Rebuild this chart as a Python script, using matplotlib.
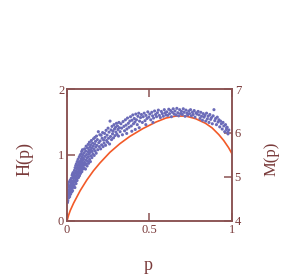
import matplotlib
matplotlib.use('Agg')
import matplotlib.pyplot as plt

# red curve H(p)
curve_p = [0.0, 0.01, 0.02, 0.04, 0.08, 0.12, 0.16, 0.20, 0.26, 0.32, 0.38, 0.46,
           0.54, 0.60, 0.66, 0.72, 0.78, 0.84, 0.88, 0.92, 0.95, 0.98, 1.0]
curve_h = [0.0, 0.09, 0.16, 0.27, 0.46, 0.62, 0.76, 0.88, 1.04, 1.17, 1.28, 1.40,
           1.50, 1.56, 1.59, 1.59, 1.55, 1.48, 1.41, 1.31, 1.22, 1.11, 1.02]

# blue scatter M(p)
scatter_p = [
    0.002, 0.004, 0.005, 0.007, 0.008, 0.009, 0.011, 0.012, 0.013, 0.015,
    0.016, 0.017, 0.019, 0.020, 0.021, 0.022, 0.024, 0.025, 0.026, 0.027,
    0.029, 0.030, 0.031, 0.032, 0.033, 0.034, 0.035, 0.036, 0.037, 0.038,
    0.039, 0.040, 0.003, 0.010, 0.018, 0.023, 0.028, 0.006, 0.014, 0.034,
    0.041, 0.042, 0.043, 0.044, 0.045, 0.046, 0.047, 0.048, 0.049, 0.050,
    0.051, 0.052, 0.053, 0.054, 0.055, 0.056, 0.057, 0.058, 0.059, 0.060,
    0.061, 0.062, 0.063, 0.064, 0.065, 0.066, 0.067, 0.068, 0.069, 0.070,
    0.071, 0.072, 0.073, 0.074, 0.075, 0.076, 0.077, 0.078, 0.079, 0.080,
    0.081, 0.082, 0.083, 0.084, 0.085, 0.086, 0.087, 0.088, 0.089, 0.090,
    0.091, 0.092, 0.093, 0.094, 0.095, 0.096, 0.097, 0.098, 0.099, 0.100,
    0.101, 0.103, 0.104, 0.106, 0.107, 0.109, 0.110, 0.112, 0.113, 0.115,
    0.116, 0.118, 0.119, 0.121, 0.122, 0.124, 0.125, 0.127, 0.128, 0.130,
    0.131, 0.133, 0.134, 0.136, 0.137, 0.139, 0.140, 0.142, 0.143, 0.145,
    0.146, 0.148, 0.149, 0.151, 0.153, 0.155, 0.157, 0.159, 0.161, 0.163,
    0.165, 0.167, 0.169, 0.171, 0.173, 0.175, 0.177, 0.179, 0.181, 0.184,
    0.187, 0.190, 0.193, 0.196, 0.199,
    0.201, 0.204, 0.207, 0.210, 0.213, 0.216, 0.219, 0.222, 0.225, 0.228,
    0.231, 0.234, 0.237, 0.240, 0.243, 0.246, 0.249, 0.252, 0.255, 0.258,
    0.261, 0.264, 0.267, 0.270, 0.273, 0.276, 0.279, 0.282, 0.285, 0.288,
    0.291, 0.294, 0.297, 0.300, 0.303, 0.306, 0.309, 0.312, 0.315, 0.318,
    0.322, 0.327, 0.331, 0.336, 0.340, 0.345, 0.349, 0.354, 0.358, 0.363,
    0.367, 0.372, 0.376, 0.381, 0.385, 0.390, 0.394, 0.399, 0.403, 0.408,
    0.412, 0.417, 0.421, 0.426, 0.430, 0.435, 0.440, 0.446, 0.451, 0.457,
    0.362, 0.393, 0.414, 0.438, 0.478, 0.521,
    0.462, 0.468, 0.473, 0.479, 0.485, 0.490, 0.496, 0.502, 0.508, 0.514,
    0.519, 0.525, 0.531, 0.537, 0.543, 0.548, 0.554, 0.560, 0.566, 0.572,
    0.578, 0.584, 0.590, 0.595, 0.600,
    0.605, 0.611, 0.617, 0.622, 0.628, 0.633, 0.639, 0.644, 0.650, 0.655,
    0.661, 0.666, 0.672, 0.677, 0.683, 0.688, 0.694, 0.699, 0.705, 0.710,
    0.716, 0.721, 0.727, 0.732, 0.738, 0.743, 0.749, 0.754, 0.760, 0.765,
    0.771, 0.776, 0.782, 0.788, 0.795,
    0.801, 0.806, 0.811, 0.816, 0.821, 0.826, 0.831, 0.836, 0.841, 0.846,
    0.851, 0.856, 0.861, 0.866, 0.871, 0.876, 0.881, 0.886, 0.891, 0.896,
    0.901, 0.906, 0.911, 0.916, 0.921, 0.926, 0.931, 0.936, 0.941, 0.946,
    0.951, 0.956, 0.961, 0.966, 0.971, 0.976, 0.981, 0.975, 0.968,
]
scatter_m = [
    4.58, 4.71, 4.46, 4.83, 4.64, 4.52, 4.77, 4.60, 4.89, 4.68,
    4.55, 4.80, 4.66, 4.93, 4.74, 4.61, 4.85, 4.70, 4.97, 4.79,
    4.66, 4.90, 5.04, 4.75, 4.86, 4.69, 4.98, 4.83, 5.10, 4.91,
    4.77, 5.02, 4.42, 4.70, 4.74, 4.88, 4.82, 4.63, 4.58, 5.07,
    4.92, 5.06, 4.81, 4.99, 5.15, 4.88, 5.03, 4.76, 5.21, 4.97,
    5.09, 4.90, 5.26, 5.01, 4.85, 5.14, 5.30, 4.95, 5.08, 5.19,
    4.92, 5.35, 5.04, 5.22, 4.98, 5.12, 5.40, 5.07, 5.27, 4.99,
    5.17, 5.33, 5.10, 5.45, 5.21, 5.03, 5.29, 5.14, 5.49, 5.24,
    5.36, 5.08, 5.19, 5.52, 5.31, 5.15, 5.41, 5.26, 5.58, 5.12,
    5.35, 5.46, 5.23, 5.62, 5.38, 5.18, 5.51, 5.30, 5.43, 5.27,
    5.40, 5.21, 5.55, 5.33, 5.64, 5.28, 5.47, 5.18, 5.59, 5.38,
    5.70, 5.30, 5.51, 5.43, 5.25, 5.66, 5.36, 5.57, 5.74, 5.46,
    5.31, 5.62, 5.52, 5.79, 5.40, 5.68, 5.56, 5.35, 5.73, 5.61,
    5.48, 5.83, 5.66, 5.44, 5.58, 5.77, 5.52, 5.70, 5.87, 5.63,
    5.49, 5.75, 5.90, 5.59, 5.81, 5.68, 5.54, 5.93, 5.72, 5.85,
    5.62, 6.03, 5.78, 5.69, 5.96,
    5.82, 5.64, 5.95, 5.73, 5.88, 6.01, 5.69, 5.84, 5.77, 5.99,
    5.90, 5.72, 6.06, 5.83, 5.95, 5.79, 6.11, 5.88, 6.02, 5.75,
    6.27, 5.92, 6.07, 5.85, 6.15, 5.98, 6.04, 5.89, 6.19, 6.09,
    5.94, 6.13, 6.02, 6.22, 5.97, 6.16, 6.08, 5.93, 6.24, 6.12,
    6.03, 6.21, 6.11, 5.96, 6.26, 6.15, 6.05, 6.30, 6.18, 6.09,
    6.34, 6.22, 6.13, 6.27, 6.37, 6.16, 6.29, 6.41, 6.21, 6.33,
    6.25, 6.43, 6.30, 6.19, 6.38, 6.45, 6.27, 6.35, 6.42, 6.24,
    5.99, 6.04, 6.08, 6.12, 6.19, 6.24,
    6.37, 6.45, 6.28, 6.40, 6.33, 6.48, 6.36, 6.43, 6.30, 6.47,
    6.39, 6.34, 6.50, 6.42, 6.37, 6.46, 6.52, 6.40, 6.35, 6.49,
    6.44, 6.38, 6.53, 6.46, 6.41,
    6.48, 6.40, 6.54, 6.44, 6.51, 6.37, 6.47, 6.55, 6.43, 6.50,
    6.41, 6.56, 6.46, 6.39, 6.53, 6.44, 6.49, 6.42, 6.55, 6.47,
    6.38, 6.52, 6.45, 6.41, 6.50, 6.44, 6.53, 6.39, 6.47, 6.42,
    6.51, 6.36, 6.46, 6.43, 6.49,
    6.41, 6.33, 6.47, 6.38, 6.29, 6.44, 6.36, 6.40, 6.27, 6.45,
    6.32, 6.38, 6.24, 6.42, 6.31, 6.35, 6.21, 6.39, 6.53, 6.28,
    6.33, 6.19, 6.36, 6.25, 6.30, 6.14, 6.27, 6.21, 6.09, 6.24,
    6.16, 6.03, 6.19, 6.08, 6.13, 5.98, 6.07, 6.02, 6.12,
]

x_ticks = [0, 0.5, 1]
x_labels = ['0', '0.5', '1']
h_ticks = [0, 1, 2]
m_ticks = [4, 5, 6, 7]

frame_col = '#8a5252'
text_col = '#7a3b3b'
dot_col = '#6b6bb8'
line_col = '#f25a28'

plt.rcParams['font.family'] = ['Liberation Serif', 'DejaVu Serif']

fig = plt.figure(figsize=(2.81, 2.77), dpi=100)
ax = fig.add_axes([0.2384, 0.2022, 0.587, 0.4765])
ax2 = ax.twinx()

ax.plot(curve_p, curve_h, color=line_col, lw=1.2, zorder=3)
ax2.scatter(scatter_p, scatter_m, s=5, color=dot_col, edgecolors='none', zorder=2)

ax.set_xlim(0, 1)
ax.set_ylim(0, 2)
ax2.set_ylim(4, 7)

ax.set_xticks(x_ticks)
ax.set_xticklabels(x_labels)
ax.set_yticks(h_ticks)
ax2.set_yticks(m_ticks)

for a in (ax, ax2):
    for s in a.spines.values():
        s.set_color(frame_col)
        s.set_linewidth(1.1)
    a.tick_params(direction='in', length=6, width=1.1, color=frame_col,
                  labelcolor=text_col, labelsize=9, pad=2)
ax.tick_params(axis='x', top=True)

ax.set_xlabel('p', fontsize=13, color=text_col)
ax.set_ylabel('H(p)', fontsize=13, color=text_col)
ax2.set_ylabel('M(p)', fontsize=12, color=text_col)
ax.xaxis.set_label_coords(0.49, -0.27)
ax.yaxis.set_label_coords(-0.2, 0.47)
ax2.yaxis.set_label_coords(1.19, 0.47)

fig.savefig('out.png', dpi=100)
